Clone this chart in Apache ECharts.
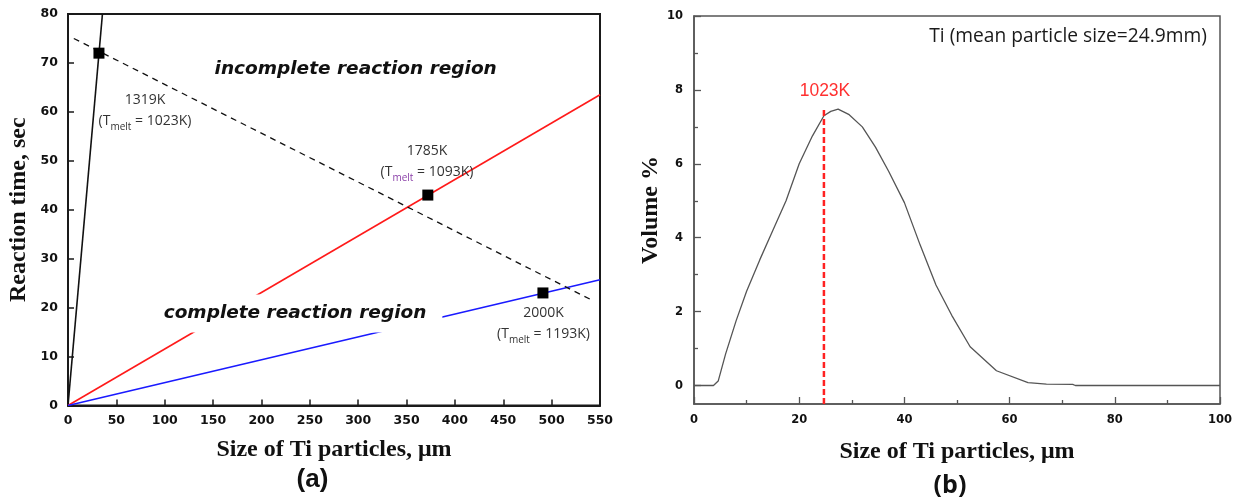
<!DOCTYPE html>
<html>
<head>
<meta charset="utf-8">
<script src="https://cdn.jsdelivr.net/npm/echarts@6.0.0/dist/echarts.min.js"></script>
<style>
html,body{margin:0;padding:0;background:#fff;}
#chart{width:1245px;height:504px;}
</style>
</head>
<body>
<div id="chart"></div>
<script>
// ---------- Panel (a) data ----------
const xTicksA = [0, 50, 100, 150, 200, 250, 300, 350, 400, 450, 500, 550];
const yTicksA = [0, 10, 20, 30, 40, 50, 60, 70, 80];
const line1319K = [[0, 0], [35.6, 80]];          // black solid
const line1785K = [[0, 0], [550, 63.5]];         // red
const line2000K = [[0, 0], [550, 25.7]];         // blue
const boundaryLine = [[6, 75], [543, 21.4]];     // dashed boundary
const markerPoints = [[32, 72], [372, 43], [491, 23]];
const annotationsA = [
  { pos: [79.6, 60.2], temp: '1319K', melt: '1023K', sub: '#333' },
  { pos: [371.1, 49.8], temp: '1785K', melt: '1093K', sub: '#8a3fa8' },
  { pos: [491.6, 16.7], temp: '2000K', melt: '1193K', sub: '#333' }
];
const regionLabels = [
  { pos: [297.4, 68.8], text: 'incomplete reaction region', box: false },
  { pos: [234.7, 18.8], text: 'complete reaction region', box: true }
];

// ---------- Panel (b) data ----------
const xTicksB = [0, 20, 40, 60, 80, 100];
const yLabelsB = [0, 2, 4, 6, 8, 10];
const yTicksB = [0, 1, 2, 3, 4, 5, 6, 7, 8, 9, 10];
const sizeDist = [
  [0, 0], [3.7, 0], [4.6, 0.12], [6, 0.85], [8, 1.75], [10, 2.55], [12.5, 3.4],
  [15, 4.2], [17.5, 5.0], [20, 6.0], [22.5, 6.75], [24.7, 7.3], [26, 7.42],
  [27.4, 7.48], [29.5, 7.33], [32, 7.0], [34.5, 6.45], [37, 5.8], [40, 4.95],
  [43, 3.8], [46, 2.72], [49, 1.9], [52.5, 1.05], [57.5, 0.4], [63.5, 0.08],
  [67, 0.04], [72, 0.03], [72.5, 0], [100, 0]
];
const meltLine = [[24.7, -0.5], [24.7, 7.5]];
const meltLabel = { pos: [24.9, 7.96], text: '1023K' };
const titleB = { pos: [97.5, 9.44], text: 'Ti (mean particle size=24.9mm)' };

const tickFont = { fontFamily: 'DejaVu Sans', fontWeight: 'bold', color: '#111' };
const nameFont = { fontFamily: 'Liberation Serif', fontWeight: 'bold', fontSize: 24, color: '#111' };
const hiddenItem = { color: 'transparent', opacity: 1 };

const chart = echarts.init(document.getElementById('chart'), null, { renderer: 'canvas' });

const annoSeries = annotationsA.map(a => ({
  type: 'scatter', xAxisIndex: 0, yAxisIndex: 0, z: 10,
  symbolSize: 1, itemStyle: hiddenItem, silent: true,
  data: [a.pos],
  label: {
    show: true, position: 'inside',
    formatter: '{a|' + a.temp + '}\n{a|(T}{s|melt}{a| = ' + a.melt + ')}',
    rich: {
      a: { fontFamily: 'Open Sans', fontSize: 14, color: '#333', lineHeight: 21 },
      s: { fontFamily: 'Open Sans', fontSize: 10, color: a.sub, lineHeight: 12, verticalAlign: 'bottom' }
    }
  }
}));

const regionSeries = regionLabels.map(r => ({
  type: 'scatter', xAxisIndex: 0, yAxisIndex: 0, z: 10,
  symbolSize: 1, itemStyle: hiddenItem, silent: true,
  data: [r.pos],
  label: {
    show: true, position: 'inside', formatter: r.text,
    fontFamily: 'DejaVu Sans', fontWeight: 'bold', fontStyle: 'italic', fontSize: 18.5, color: '#111',
    backgroundColor: r.box ? '#fff' : 'transparent',
    padding: r.box ? [10, 16, 9, 16] : 0
  }
}));

const option = {
  backgroundColor: '#fff',
  animation: false,
  grid: [
    { left: 68, top: 14, width: 532, height: 391.5, show: true, borderColor: '#1a1a1a', borderWidth: 2, containLabel: false },
    { left: 694, top: 16, width: 526, height: 388, show: true, borderColor: '#555', borderWidth: 1.5, containLabel: false }
  ],
  xAxis: [
    {
      type: 'value', gridIndex: 0, min: xTicksA[0], max: xTicksA[xTicksA.length - 1], interval: 50,
      axisLine: { onZero: false, lineStyle: { color: '#1a1a1a', width: 2 } },
      axisTick: { inside: true, length: 6, lineStyle: { color: '#1a1a1a', width: 1.5 } },
      axisLabel: Object.assign({ fontSize: 12.5, margin: 9 }, tickFont),
      splitLine: { show: false },
      name: 'Size of Ti particles, \u03bcm', nameLocation: 'middle', nameGap: 32.5, nameTextStyle: nameFont
    },
    {
      type: 'value', gridIndex: 1, min: xTicksB[0], max: xTicksB[xTicksB.length - 1], interval: 20,
      axisLine: { onZero: false, lineStyle: { color: '#555', width: 1.5 } },
      axisTick: { inside: true, length: 7, lineStyle: { color: '#555', width: 1.3 } },
      minorTick: { show: true, splitNumber: 2, length: 4, lineStyle: { color: '#555', width: 1.3 } },
      axisLabel: Object.assign({ fontSize: 11.5, margin: 10 }, tickFont),
      splitLine: { show: false },
      name: 'Size of Ti particles, \u03bcm', nameLocation: 'middle', nameGap: 36, nameTextStyle: nameFont
    }
  ],
  yAxis: [
    {
      type: 'value', gridIndex: 0, min: yTicksA[0], max: yTicksA[yTicksA.length - 1], interval: 10,
      axisLine: { onZero: false, lineStyle: { color: '#1a1a1a', width: 2 } },
      axisTick: { inside: true, length: 6, lineStyle: { color: '#1a1a1a', width: 1.5 } },
      axisLabel: Object.assign({ fontSize: 12.5, margin: 10 }, tickFont),
      splitLine: { show: false },
      name: 'Reaction time, sec', nameLocation: 'middle', nameGap: 37, nameTextStyle: nameFont
    },
    {
      type: 'value', gridIndex: 1, position: 'left', min: -0.5, max: 10,
      axisLine: { onZero: false, lineStyle: { color: '#555', width: 1.5 } },
      axisTick: { inside: true, length: 7, customValues: yLabelsB, lineStyle: { color: '#555', width: 1.3 } },
      axisLabel: Object.assign({ fontSize: 11.5, margin: 11, customValues: yLabelsB }, tickFont),
      splitLine: { show: false },
      name: 'Volume %', nameLocation: 'middle', nameGap: 31, nameTextStyle: nameFont
    },
    {
      type: 'value', gridIndex: 1, position: 'left', offset: 0, min: -0.5, max: 10,
      axisLine: { show: false },
      axisTick: { inside: true, length: 4, customValues: yTicksB.filter(v => yLabelsB.indexOf(v) < 0), lineStyle: { color: '#555', width: 1.3 } },
      axisLabel: { show: false },
      splitLine: { show: false }
    }
  ],
  series: [
    { type: 'line', xAxisIndex: 0, yAxisIndex: 0, data: line1319K, symbol: 'none', lineStyle: { color: '#111', width: 1.6 }, z: 2 },
    { type: 'line', xAxisIndex: 0, yAxisIndex: 0, data: line1785K, symbol: 'none', lineStyle: { color: '#ff1a1a', width: 1.6 }, z: 2 },
    { type: 'line', xAxisIndex: 0, yAxisIndex: 0, data: line2000K, symbol: 'none', lineStyle: { color: '#1a1aff', width: 1.6 }, z: 2 },
    { type: 'line', xAxisIndex: 0, yAxisIndex: 0, data: boundaryLine, symbol: 'none', lineStyle: { color: '#111', width: 1.3, type: [6, 5] }, z: 2 },
    { type: 'scatter', xAxisIndex: 0, yAxisIndex: 0, data: markerPoints, symbol: 'rect', symbolSize: 11, itemStyle: { color: '#000', opacity: 1 }, z: 12 },
    ...annoSeries,
    ...regionSeries,
    { type: 'line', xAxisIndex: 1, yAxisIndex: 1, data: sizeDist, symbol: 'none', lineStyle: { color: '#555', width: 1.3 }, z: 2 },
    { type: 'line', xAxisIndex: 1, yAxisIndex: 1, data: meltLine, symbol: 'none', lineStyle: { color: '#ff2222', width: 2.5, type: [6, 3] }, z: 3 },
    {
      type: 'scatter', xAxisIndex: 1, yAxisIndex: 1, data: [meltLabel.pos], symbolSize: 1, itemStyle: hiddenItem, z: 10,
      label: { show: true, position: 'inside', formatter: meltLabel.text, fontFamily: 'Liberation Sans', fontSize: 17.5, color: '#ff3030' }
    },
    {
      type: 'scatter', xAxisIndex: 1, yAxisIndex: 1, data: [titleB.pos], symbolSize: 1, itemStyle: hiddenItem, z: 10,
      label: { show: true, position: 'inside', align: 'right', formatter: titleB.text, fontFamily: 'Open Sans', fontSize: 19.2, color: '#1a1a1a' }
    }
  ],
  graphic: [
    { type: 'text', x: 312.5, y: 480, style: { text: '(a)', align: 'center', verticalAlign: 'middle', font: 'bold 26px "Liberation Sans"', fill: '#111' } },
    { type: 'text', x: 950, y: 486, style: { text: '(b)', align: 'center', verticalAlign: 'middle', font: 'bold 25px "Open Sans"', fill: '#111' } }
  ]
};
chart.setOption(option);
</script>
</body>
</html>
